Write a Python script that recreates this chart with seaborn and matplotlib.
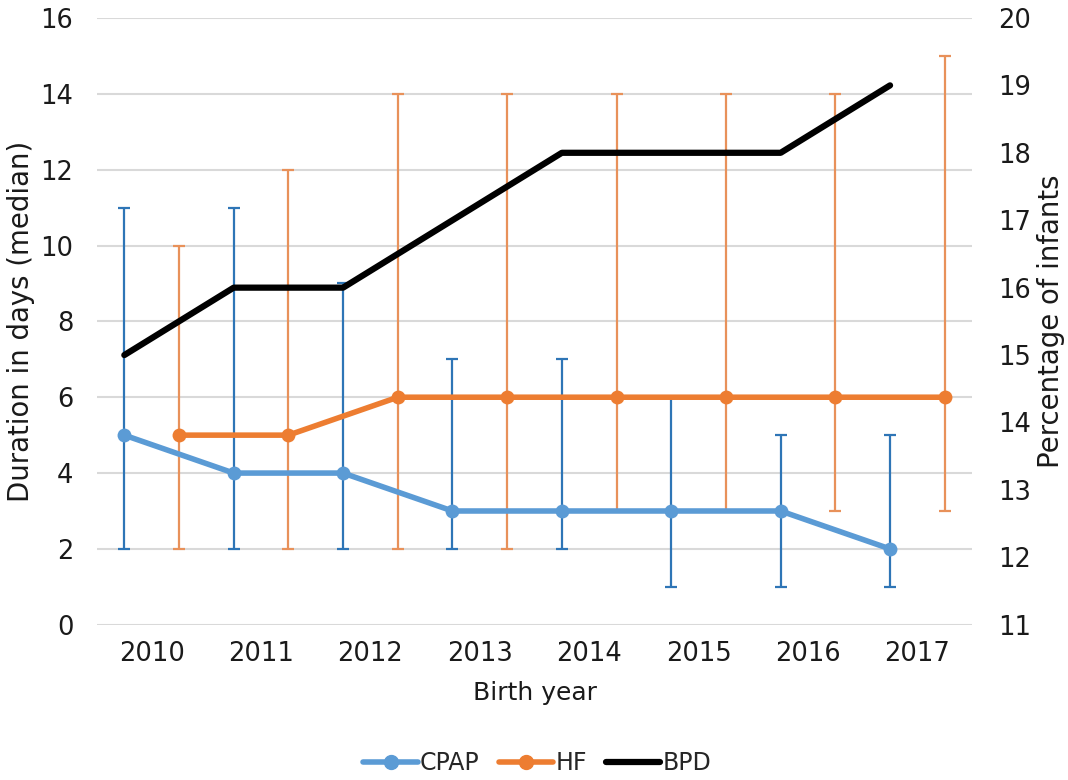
import numpy as np
import pandas as pd
import matplotlib
matplotlib.use("Agg")
import matplotlib.pyplot as plt
from matplotlib.lines import Line2D
import seaborn as sns

# Data
years = ["2010", "2011", "2012", "2013", "2014", "2015", "2016", "2017"]
cpap_median = [5, 4, 4, 3, 3, 3, 3, 2]
cpap_low = [2, 2, 2, 2, 2, 1, 1, 1]
cpap_high = [11, 11, 9, 7, 7, 6, 5, 5]
hf_median = [5, 5, 6, 6, 6, 6, 6, 6]
hf_low = [2, 2, 2, 2, 3, 3, 3, 3]
hf_high = [10, 12, 14, 14, 14, 14, 14, 15]
bpd_pct = [15, 16, 16, 17, 18, 18, 18, 19]

sns.set_style("white")
plt.rcParams["font.family"] = ["DejaVu Sans"]

CPAP_LINE = "#5B9BD5"
CPAP_ERR = "#2E75B6"
HF_LINE = "#ED7D31"
HF_ERR = "#E8915A"
GRID = "#D9D9D9"
TEXT = "#1a1a1a"

fig = plt.figure(figsize=(10.68, 7.8), dpi=100)
ax = fig.add_axes([0.0908, 0.199, 0.8194, 0.778])
ax2 = ax.twinx()

idx = np.arange(len(years))
off = 0.25
df = pd.DataFrame({
    "pos_c": idx - off, "pos_h": idx + off,
    "cpap": cpap_median, "hf": hf_median, "bpd": bpd_pct,
})

# error bars (min-max range) behind the median lines
ax.errorbar(df["pos_c"], cpap_median,
            yerr=[np.array(cpap_median) - np.array(cpap_low),
                  np.array(cpap_high) - np.array(cpap_median)],
            fmt="none", ecolor=CPAP_ERR, elinewidth=1.6, capsize=4.5,
            capthick=1.6, zorder=2)
ax.errorbar(df["pos_h"], hf_median,
            yerr=[np.array(hf_median) - np.array(hf_low),
                  np.array(hf_high) - np.array(hf_median)],
            fmt="none", ecolor=HF_ERR, elinewidth=1.6, capsize=4.5,
            capthick=1.6, zorder=2)

sns.lineplot(data=df, x="pos_c", y="cpap", ax=ax, color=CPAP_LINE,
             linewidth=4, marker="o", markersize=10, markeredgewidth=0,
             zorder=4)
sns.lineplot(data=df, x="pos_h", y="hf", ax=ax, color=HF_LINE,
             linewidth=4, marker="o", markersize=10, markeredgewidth=0,
             zorder=4)
sns.lineplot(data=df, x="pos_c", y="bpd", ax=ax2, color="black",
             linewidth=4.5, zorder=5)

ax.set_xlim(-0.5, len(years) - 0.5)
ax.set_ylim(0, 16)
ax.set_yticks(np.arange(0, 17, 2))
ax2.set_ylim(11, 20)
ax2.set_yticks(np.arange(11, 21, 1))
ax.set_xticks(idx)
ax.set_xticklabels(years)

ax.grid(axis="y", color=GRID, linewidth=1.5)
ax.set_axisbelow(True)
for a in (ax, ax2):
    for s in a.spines.values():
        s.set_visible(False)
    a.tick_params(length=0)
ax.tick_params(axis="y", labelsize=18.5, pad=17, colors=TEXT)
ax.tick_params(axis="x", labelsize=18.5, pad=12, colors=TEXT)
ax2.tick_params(axis="y", labelsize=18.5, pad=19, colors=TEXT)

ax.set_xlabel("Birth year", fontsize=18, labelpad=10, color=TEXT)
ax.set_ylabel("Duration in days (median)", fontsize=19.8, labelpad=4,
              color=TEXT)
ax2.set_ylabel("Percentage of infants", fontsize=19.8, labelpad=4,
               color=TEXT)

handles = [
    Line2D([], [], color=CPAP_LINE, lw=4, marker="o", markersize=10),
    Line2D([], [], color=HF_LINE, lw=4, marker="o", markersize=10),
    Line2D([], [], color="black", lw=4.5),
]
fig.legend(handles, ["CPAP", "HF", "BPD"], loc="center",
           bbox_to_anchor=(0.503, 0.022), ncol=3, frameon=False,
           fontsize=17, handlelength=2.3, handletextpad=0.1,
           columnspacing=0.8)

fig.savefig("out.png", dpi=100, facecolor="white")
